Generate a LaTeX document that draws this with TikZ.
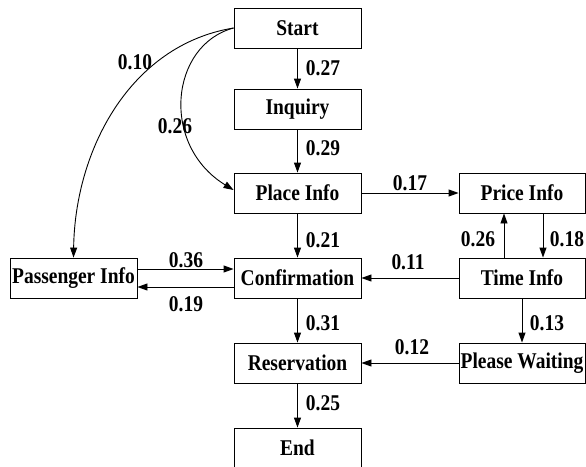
\documentclass[tikz,border=0pt]{standalone}
\usepackage{fontspec}
\setmainfont{Liberation Serif}[FakeStretch=0.865]
\usetikzlibrary{arrows.meta}
\begin{document}
\begin{tikzpicture}[x=1pt,y=-1pt,
  box/.style={draw, line width=0.9pt, minimum height=40pt, inner sep=0pt, font=\fontsize{22.5}{24}\selectfont\bfseries},
  cbox/.style={box, minimum width=127pt},
  rbox/.style={box, minimum width=126pt},
  lbl/.style={inner sep=0pt, font=\fontsize{22.5}{24}\selectfont\bfseries},
  arr/.style={line width=0.9pt, -{Triangle[length=10pt,width=7pt]}}]
\useasboundingbox (0,0) rectangle (586,466);
\node[cbox] (start) at (297.5,28) {Start};
\node[cbox] (inq) at (297.5,109) {Inquiry};
\node[cbox] (place) at (297.5,193) {Place Info};
\node[cbox] (conf) at (297.5,278) {Confirmation};
\node[cbox] (res) at (297.5,363) {Reservation};
\node[cbox] (end) at (297.5,448) {End};
\node[cbox] (pass) at (73.5,278) {Passenger Info};
\node[rbox] (price) at (522,193) {Price Info};
\node[rbox] (time) at (522,278) {Time Info};
\node[rbox] (wait) at (522,363) {Please Waiting};

\draw[arr] (start) -- (inq);
\draw[arr] (inq) -- (place);
\draw[arr] (place) -- (conf);
\draw[arr] (conf) -- (res);
\draw[arr] (res) -- (end);
\draw[arr] (place) -- (price);
\draw[arr] ([xshift=-18pt]time.north) -- ([xshift=-18pt]price.south);
\draw[arr] ([xshift=21pt]price.south) -- ([xshift=21pt]time.north);
\draw[arr] (time) -- (wait);
\draw[arr] (time) -- (conf);
\draw[arr] (wait) -- (res);
\draw[arr] ([yshift=9pt]pass.east) -- ([yshift=9pt]conf.west);
\draw[arr] ([yshift=-9pt]conf.west) -- ([yshift=-9pt]pass.east);
\draw[arr] (start.west) .. controls (130,45) and (75,150) .. (pass.north);
\draw[arr] (start.west) .. controls (170,45) and (160,145) .. ([yshift=3pt]place.west);

\node[lbl] (l010) at (135,62) {0.10};
\node[lbl] (l026a) at (175,126) {0.26};
\node[lbl] (l027) at (323,68) {0.27};
\node[lbl] (l029) at (323,148) {0.29};
\node[lbl] (l017) at (410,183) {0.17};
\node[lbl] (l021) at (323,240) {0.21};
\node[lbl] (l011) at (408,262) {0.11};
\node[lbl] (l031) at (323,323) {0.31};
\node[lbl] (l012) at (412,347) {0.12};
\node[lbl] (l025) at (323,403) {0.25};
\node[lbl] (l026b) at (478,239) {0.26};
\node[lbl] (l018) at (567,239) {0.18};
\node[lbl] (l013) at (547,323) {0.13};
\node[lbl] (l036) at (186,260) {0.36};
\node[lbl] (l019) at (186,304) {0.19};
\end{tikzpicture}
\end{document}
